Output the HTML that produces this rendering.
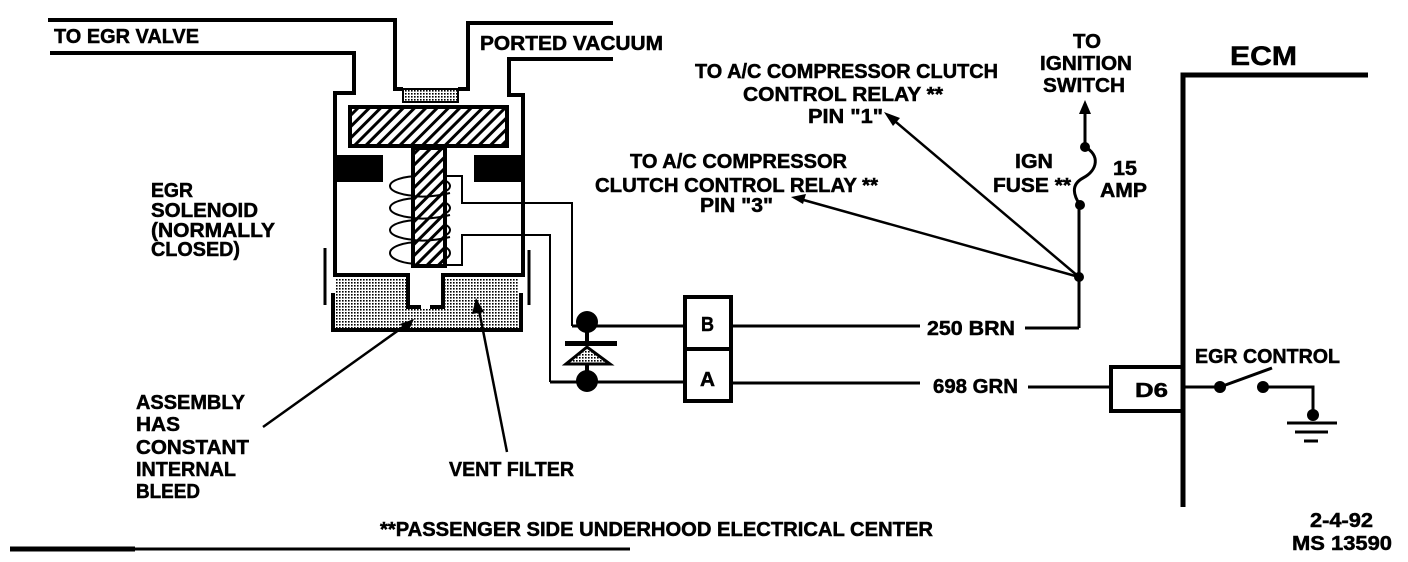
<!DOCTYPE html>
<html><head><meta charset="utf-8"><style>
html,body{margin:0;padding:0;background:#fff;width:1408px;height:562px;overflow:hidden}
svg{display:block}
text{font-family:"Liberation Sans",sans-serif;font-weight:bold;fill:#000;stroke:#000;stroke-width:0.5}
</style></head><body>
<svg width="1408" height="562" viewBox="0 0 1408 562" xmlns="http://www.w3.org/2000/svg">
<defs>
<pattern id="hatch" width="8" height="8" patternUnits="userSpaceOnUse" patternTransform="rotate(45)">
<rect width="8" height="8" fill="#fff"/><rect x="0" y="0" width="3" height="8" fill="#000"/>
</pattern>
<pattern id="dots" width="3" height="3" patternUnits="userSpaceOnUse">
<rect width="3" height="3" fill="#fff"/><rect x="0" y="0" width="1.6" height="1.6" fill="#000"/>
</pattern>
</defs>
<g fill="none" stroke="#000" stroke-linejoin="miter">
<polyline stroke-width="4" points="48,20 395,20 395,89 403,89"/>
<polyline stroke-width="4" points="50,53 354,53 354,93 335,93 335,275 408,275 408,307 421,307"/>
<polyline stroke-width="4" points="458,89 468,89 468,23 613,23"/>
<polyline stroke-width="4" points="613,59 509,59 509,95 523,95 523,275 443,275 443,307 430,307"/>
<polyline stroke-width="4" points="333,293 333,330 521,330 521,293"/>
<line x1="325" y1="248" x2="325" y2="305" stroke-width="3"/>
<line x1="529" y1="250" x2="529" y2="305" stroke-width="3"/>
</g>
<path d="M335 279 H406 V309 H445 V279 H519 V328 H335 Z" fill="url(#dots)"/>
<rect x="403" y="89" width="55" height="13" fill="url(#dots)" stroke="#000" stroke-width="2"/>
<rect x="350" y="107" width="157" height="39" fill="url(#hatch)" stroke="#000" stroke-width="4"/>
<!-- coil back -->
<g fill="none" stroke="#000" stroke-width="2">
<ellipse cx="420" cy="186" rx="30" ry="10"/>
<ellipse cx="420" cy="208" rx="30" ry="10"/>
<ellipse cx="420" cy="230" rx="30" ry="10"/>
<ellipse cx="420" cy="253" rx="30" ry="11"/>
</g>
<rect x="413" y="148" width="32" height="118" fill="url(#hatch)" stroke="#000" stroke-width="4"/>
<g fill="none" stroke="#000" stroke-width="2">
<path d="M412 196 Q430 198 450 193"/>
<path d="M412 218 Q430 220 450 215"/>
<path d="M412 240 Q430 242 450 237"/>
</g>
<rect x="335" y="155" width="48" height="27" fill="#000"/>
<rect x="474" y="155" width="49" height="27" fill="#000"/>
<g fill="none" stroke="#000" stroke-width="2">
<polyline points="447,176 462,176 462,203 572,203 572,326"/>
<polyline points="447,265 462,265 462,235 550,235 550,382"/>
</g>
<g stroke="#000" stroke-width="2.5" fill="none">
<line x1="263" y1="427" x2="410" y2="322"/>
<line x1="507" y1="452" x2="478" y2="305"/>
</g>
<polygon points="476,298 472,314 484,312" fill="#000"/>
<polygon points="414,319 400,324 408,332" fill="#000"/>
<g stroke="#000" fill="none" stroke-width="3">
<line x1="572" y1="326" x2="683" y2="326"/>
<line x1="550" y1="382" x2="683" y2="382"/>
<line x1="733" y1="326" x2="920" y2="326"/>
<line x1="1025" y1="328" x2="1079" y2="328"/>
<polyline points="1079,328 1079,205"/>
<line x1="733" y1="383" x2="920" y2="383"/>
<line x1="1028" y1="387" x2="1110" y2="387"/>
</g>
<circle cx="587" cy="322" r="11" fill="#000"/>
<circle cx="587" cy="381" r="11" fill="#000"/>
<rect x="585" y="330" width="4" height="12" fill="#000"/>
<rect x="585" y="363" width="4" height="10" fill="#000"/>
<rect x="565" y="341" width="52" height="5" fill="#000"/>
<polygon points="587,347 566,364 610,364" fill="url(#dots)" stroke="#000" stroke-width="3"/>
<rect x="685" y="297" width="46" height="104" fill="#fff" stroke="#000" stroke-width="4"/>
<line x1="685" y1="349" x2="731" y2="349" stroke="#000" stroke-width="4"/>
<g stroke="#000" stroke-width="2.5">
<line x1="1079" y1="277" x2="890" y2="117"/>
<line x1="1079" y1="277" x2="800" y2="199"/>
</g>
<polygon points="884,112 900,118 893,126" fill="#000"/>
<polygon points="791,197 806,194 803,204" fill="#000"/>
<circle cx="1079" cy="277" r="5" fill="#000"/>
<line x1="1085" y1="147" x2="1085" y2="108" stroke="#000" stroke-width="3"/>
<polygon points="1085,100 1079,114 1091,114" fill="#000"/>
<circle cx="1085" cy="147" r="5" fill="#000"/>
<circle cx="1080" cy="205" r="5" fill="#000"/>
<path d="M1085 147 C1100 155 1098 170 1083 178 C1070 185 1074 196 1080 205" fill="none" stroke="#000" stroke-width="3"/>
<polyline points="1368,75 1183,75 1183,507" fill="none" stroke="#000" stroke-width="5"/>
<polyline points="1183,367 1111,367 1111,411 1183,411" fill="none" stroke="#000" stroke-width="4"/>
<g stroke="#000" stroke-width="3" fill="none">
<line x1="1183" y1="387" x2="1220" y2="387"/>
<line x1="1220" y1="387" x2="1272" y2="368"/>
<polyline points="1263,387 1313,387 1313,415"/>
<line x1="1287" y1="423" x2="1337" y2="423"/>
<line x1="1295" y1="432" x2="1328" y2="432"/>
<line x1="1304" y1="441" x2="1318" y2="441"/>
</g>
<circle cx="1220" cy="387" r="6" fill="#000"/>
<circle cx="1263" cy="387" r="6" fill="#000"/>
<circle cx="1313" cy="415" r="6" fill="#000"/>
<line x1="10" y1="549" x2="135" y2="549" stroke="#000" stroke-width="5"/>
<line x1="135" y1="549" x2="630" y2="549" stroke="#000" stroke-width="3"/>
<g font-size="20">
<text x="54" y="43" textLength="145" lengthAdjust="spacingAndGlyphs">TO EGR VALVE</text>
<text x="480" y="50" textLength="183" lengthAdjust="spacingAndGlyphs">PORTED VACUUM</text>
<text x="151" y="197" textLength="42" lengthAdjust="spacingAndGlyphs">EGR</text>
<text x="151" y="217" textLength="107" lengthAdjust="spacingAndGlyphs">SOLENOID</text>
<text x="151" y="237" textLength="124" lengthAdjust="spacingAndGlyphs">(NORMALLY</text>
<text x="151" y="256" textLength="89" lengthAdjust="spacingAndGlyphs">CLOSED)</text>
<text x="136" y="409" textLength="109" lengthAdjust="spacingAndGlyphs">ASSEMBLY</text>
<text x="136" y="431" textLength="44" lengthAdjust="spacingAndGlyphs">HAS</text>
<text x="136" y="454" textLength="113" lengthAdjust="spacingAndGlyphs">CONSTANT</text>
<text x="136" y="476" textLength="100" lengthAdjust="spacingAndGlyphs">INTERNAL</text>
<text x="136" y="498" textLength="64" lengthAdjust="spacingAndGlyphs">BLEED</text>
<text x="449" y="476" textLength="125" lengthAdjust="spacingAndGlyphs">VENT FILTER</text>
<text x="380" y="536" textLength="553" lengthAdjust="spacingAndGlyphs">**PASSENGER SIDE UNDERHOOD ELECTRICAL CENTER</text>
<text x="695" y="78" textLength="303" lengthAdjust="spacingAndGlyphs">TO A/C COMPRESSOR CLUTCH</text>
<text x="743" y="101" textLength="200" lengthAdjust="spacingAndGlyphs">CONTROL RELAY **</text>
<text x="808" y="123" textLength="75" lengthAdjust="spacingAndGlyphs">PIN "1"</text>
<text x="630" y="168" textLength="217" lengthAdjust="spacingAndGlyphs">TO A/C COMPRESSOR</text>
<text x="595" y="192" textLength="283" lengthAdjust="spacingAndGlyphs">CLUTCH CONTROL RELAY **</text>
<text x="700" y="212" textLength="73" lengthAdjust="spacingAndGlyphs">PIN "3"</text>
<text x="1073" y="48" textLength="28" lengthAdjust="spacingAndGlyphs">TO</text>
<text x="1040" y="70" textLength="92" lengthAdjust="spacingAndGlyphs">IGNITION</text>
<text x="1043" y="92" textLength="82" lengthAdjust="spacingAndGlyphs">SWITCH</text>
<text x="1015" y="168" textLength="38" lengthAdjust="spacingAndGlyphs">IGN</text>
<text x="993" y="192" textLength="78" lengthAdjust="spacingAndGlyphs">FUSE **</text>
<text x="1113" y="175" textLength="24" lengthAdjust="spacingAndGlyphs">15</text>
<text x="1100" y="197" textLength="47" lengthAdjust="spacingAndGlyphs">AMP</text>
<text x="927" y="335" textLength="88" lengthAdjust="spacingAndGlyphs">250 BRN</text>
<text x="933" y="393" textLength="85" lengthAdjust="spacingAndGlyphs">698 GRN</text>
<text x="701" y="331" textLength="13" lengthAdjust="spacingAndGlyphs">B</text>
<text x="700" y="386" textLength="15" lengthAdjust="spacingAndGlyphs">A</text>
<text x="1135" y="397" textLength="33" lengthAdjust="spacingAndGlyphs">D6</text>
<text x="1195" y="363" textLength="145" lengthAdjust="spacingAndGlyphs">EGR CONTROL</text>
<text x="1310" y="527" textLength="63" lengthAdjust="spacingAndGlyphs">2-4-92</text>
<text x="1292" y="550" textLength="100" lengthAdjust="spacingAndGlyphs">MS 13590</text>
</g>
<text x="1230" y="65" font-size="27" textLength="67" lengthAdjust="spacingAndGlyphs">ECM</text>
</svg>
</body></html>
